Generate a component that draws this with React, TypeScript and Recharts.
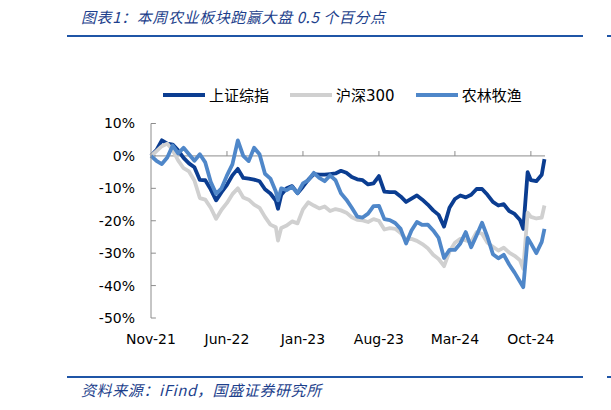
import { LineChart, Line, XAxis, YAxis, ReferenceLine } from "recharts";

// months since Nov-21
const months = [
  0, 0.5, 1, 1.5, 2, 2.5, 3, 3.5, 4, 4.5, 5, 5.5, 6, 6.5, 7, 7.5, 8, 8.5, 9, 9.5,
  10, 10.5, 11, 11.5, 11.7, 12, 12.5, 13, 13.5, 14, 14.5, 15, 15.5, 16, 16.5, 17,
  17.5, 18, 18.5, 19, 19.5, 20, 20.5, 21, 21.5, 22, 22.5, 23, 23.5, 24, 24.5, 25,
  25.5, 26, 26.5, 27, 27.5, 28, 28.5, 29, 29.5, 30, 30.5, 31, 31.5, 32, 32.5, 33,
  33.5, 34, 34.3, 34.7, 35, 35.5, 36, 36.25,
];

// 上证综指
const sse = [
  0, 1.8, 4.8, 3.8, 3.5, 1.7, -0.6, -2.3, -3.5, -7.4, -7.5, -10.3, -13.7, -11.2,
  -8.9, -6.0, -4.0, -6.8, -7.0, -7.3, -7.8, -10.3, -11.6, -13.8, -16.3, -12.0,
  -10.0, -9.3, -11.5, -9.5, -7.3, -5.6, -5.8, -5.8, -5.6, -5.4, -4.6, -5.2, -6.5,
  -7.2, -7.5, -8.8, -8.5, -6.2, -11.0, -11.2, -11.2, -12.5, -14.2, -13.2, -12.2,
  -13.5, -15.0, -16.8, -18.2, -21.8, -16.0, -13.3, -12.2, -12.8, -12.0, -10.2,
  -10.2, -12.0, -14.2, -15.3, -14.9, -17.0, -17.9, -19.8, -22.5, -5.0, -7.5, -7.8,
  -5.8, -1.0,
];

// 沪深300
const csi300 = [
  0, 1.5, 3.0, 3.8, 1.7, -1.4, -3.8, -4.8, -7.6, -13.0, -13.5, -16.0, -19.4, -16.6,
  -14.5, -11.8, -10.0, -12.8, -13.5, -15.0, -16.0, -18.8, -21.2, -22.0, -26.1,
  -22.2, -21.5, -20.2, -20.8, -16.5, -14.3, -15.3, -16.2, -15.6, -17.0, -16.4,
  -16.8, -17.5, -18.9, -19.7, -19.9, -20.4, -19.5, -20.0, -22.7, -22.3, -22.5,
  -23.8, -25.8, -25.6, -26.2, -27.2, -28.5, -30.5, -31.8, -34.0, -29.5, -26.8,
  -25.6, -26.1, -26.5, -23.5, -24.0, -26.8, -28.0, -29.2, -28.3, -29.8, -30.8,
  -32.2, -34.8, -17.5, -18.8, -19.3, -19.0, -15.3,
];

// 农林牧渔
const agri = [
  0, -1.5, -2.5, -0.5, 3.2, 0.8, 2.5, 0.5, -1.5, 0.5, -2.0, -8.0, -11.7, -10.0,
  -6.0, -2.6, 4.8, 0.0, -1.6, 2.5, 0.5, -5.5, -7.0, -11.0, -13.7, -10.0, -10.6,
  -9.5, -11.5, -8.5, -7.5, -5.2, -6.8, -7.8, -6.0, -7.5, -11.5, -13.5, -16.0,
  -18.7, -19.0, -17.8, -15.5, -15.4, -19.5, -19.8, -20.7, -22.5, -27.0, -23.0,
  -20.4, -21.3, -21.2, -23.0, -25.3, -31.5, -29.0, -29.0, -27.0, -23.5, -28.2,
  -24.5, -20.6, -25.0, -30.3, -31.6, -30.5, -33.5, -36.0, -38.8, -40.5, -25.3,
  -27.0, -30.0, -26.5, -22.5,
];

const xTicks = [0, 7, 14, 21, 28, 35];
const xLabels = ["Nov-21", "Jun-22", "Jan-23", "Aug-23", "Mar-24", "Oct-24"];
const yTicks = [10, 0, -10, -20, -30, -40, -50];

const SERIES = [
  { key: "sse", name: "上证综指", color: "#0b3d91", values: sse },
  { key: "csi300", name: "沪深300", color: "#d0d0d0", values: csi300 },
  { key: "agri", name: "农林牧渔", color: "#4f87c9", values: agri },
];

const FONT = "'DejaVu Sans', 'Noto Sans CJK SC', sans-serif";
const CJK = "'Noto Sans CJK SC', sans-serif";
const AXIS = "#8c8c8c";
const RULE = "#1f55a6";
const NOTE_COLOR = "#1d3f8c";

const chartData = months.map((m, i) => {
  const point: Record<string, number> = { m };
  for (const s of SERIES) point[s.key] = s.values[i];
  return point;
});

function Rule({ top }: { top: number }) {
  return (
    <>
      <div style={{ position: "absolute", left: 67, top, width: 516, height: 2, background: RULE }} />
      <div style={{ position: "absolute", left: 607, top, width: 4, height: 2, background: RULE }} />
    </>
  );
}

const noteStyle = {
  position: "absolute" as const,
  left: 81,
  fontSize: 15,
  letterSpacing: 0.6,
  fontStyle: "italic",
  color: NOTE_COLOR,
  whiteSpace: "nowrap" as const,
  fontFamily: CJK,
};

export default function App() {
  return (
    <div
      style={{
        position: "absolute",
        left: 0,
        top: 0,
        width: 611,
        height: 410,
        background: "#fff",
        fontFamily: FONT,
        overflow: "hidden",
      }}
    >
      <div style={{ ...noteStyle, top: 6 }}>
        图表1：本周农业板块跑赢大盘 0.5 个百分点
      </div>
      <Rule top={35} />

      {/* legend */}
      <div
        style={{
          position: "absolute",
          left: 163,
          top: 84,
          display: "flex",
          alignItems: "center",
          fontSize: 15,
          color: "#000",
          whiteSpace: "nowrap",
        }}
      >
        {SERIES.map((s) => (
          <div key={s.key} style={{ display: "flex", alignItems: "center", marginRight: 21 }}>
            <div style={{ width: 42, height: 4, background: s.color, marginRight: 4 }} />
            <span>{s.name}</span>
          </div>
        ))}
      </div>

      <div style={{ position: "absolute", left: 0, top: 0 }}>
        <LineChart
          width={611}
          height={410}
          data={chartData}
          margin={{ top: 123.5, right: 66, bottom: 62, left: 91 }}
        >
          <XAxis
            dataKey="m"
            type="number"
            domain={[0, 36.3]}
            ticks={xTicks}
            tickFormatter={(v: number) => xLabels[xTicks.indexOf(v)] ?? ""}
            axisLine={false}
            tickLine={false}
            tickMargin={10}
            height={30}
            tick={{ fontSize: 14, fill: "#000", fontFamily: FONT }}
            interval={0}
          />
          <YAxis
            type="number"
            domain={[-50, 10]}
            ticks={yTicks}
            tickFormatter={(v: number) => `${v}%`}
            axisLine={{ stroke: AXIS }}
            tickLine={false}
            tickMargin={10}
            width={60}
            tick={{ fontSize: 14, fill: "#000", fontFamily: FONT }}
            interval={0}
          />
          <ReferenceLine y={0} stroke={AXIS} strokeWidth={1} />
          {xTicks.slice(1).map((t) => (
            <ReferenceLine
              key={`xt${t}`}
              segment={[
                { x: t, y: 0 },
                { x: t, y: 1.5 },
              ]}
              stroke={AXIS}
            />
          ))}
          {yTicks.map((t) => (
            <ReferenceLine
              key={`yt${t}`}
              segment={[
                { x: 0, y: t },
                { x: 0.45, y: t },
              ]}
              stroke={AXIS}
            />
          ))}
          {SERIES.map((s) => (
            <Line
              key={s.key}
              type="linear"
              dataKey={s.key}
              name={s.name}
              stroke={s.color}
              strokeWidth={3.8}
              strokeLinejoin="round"
              dot={false}
              isAnimationActive={false}
            />
          ))}
        </LineChart>
      </div>

      <Rule top={376} />
      <div style={{ ...noteStyle, top: 379 }}>资料来源：iFind，国盛证券研究所</div>
    </div>
  );
}
